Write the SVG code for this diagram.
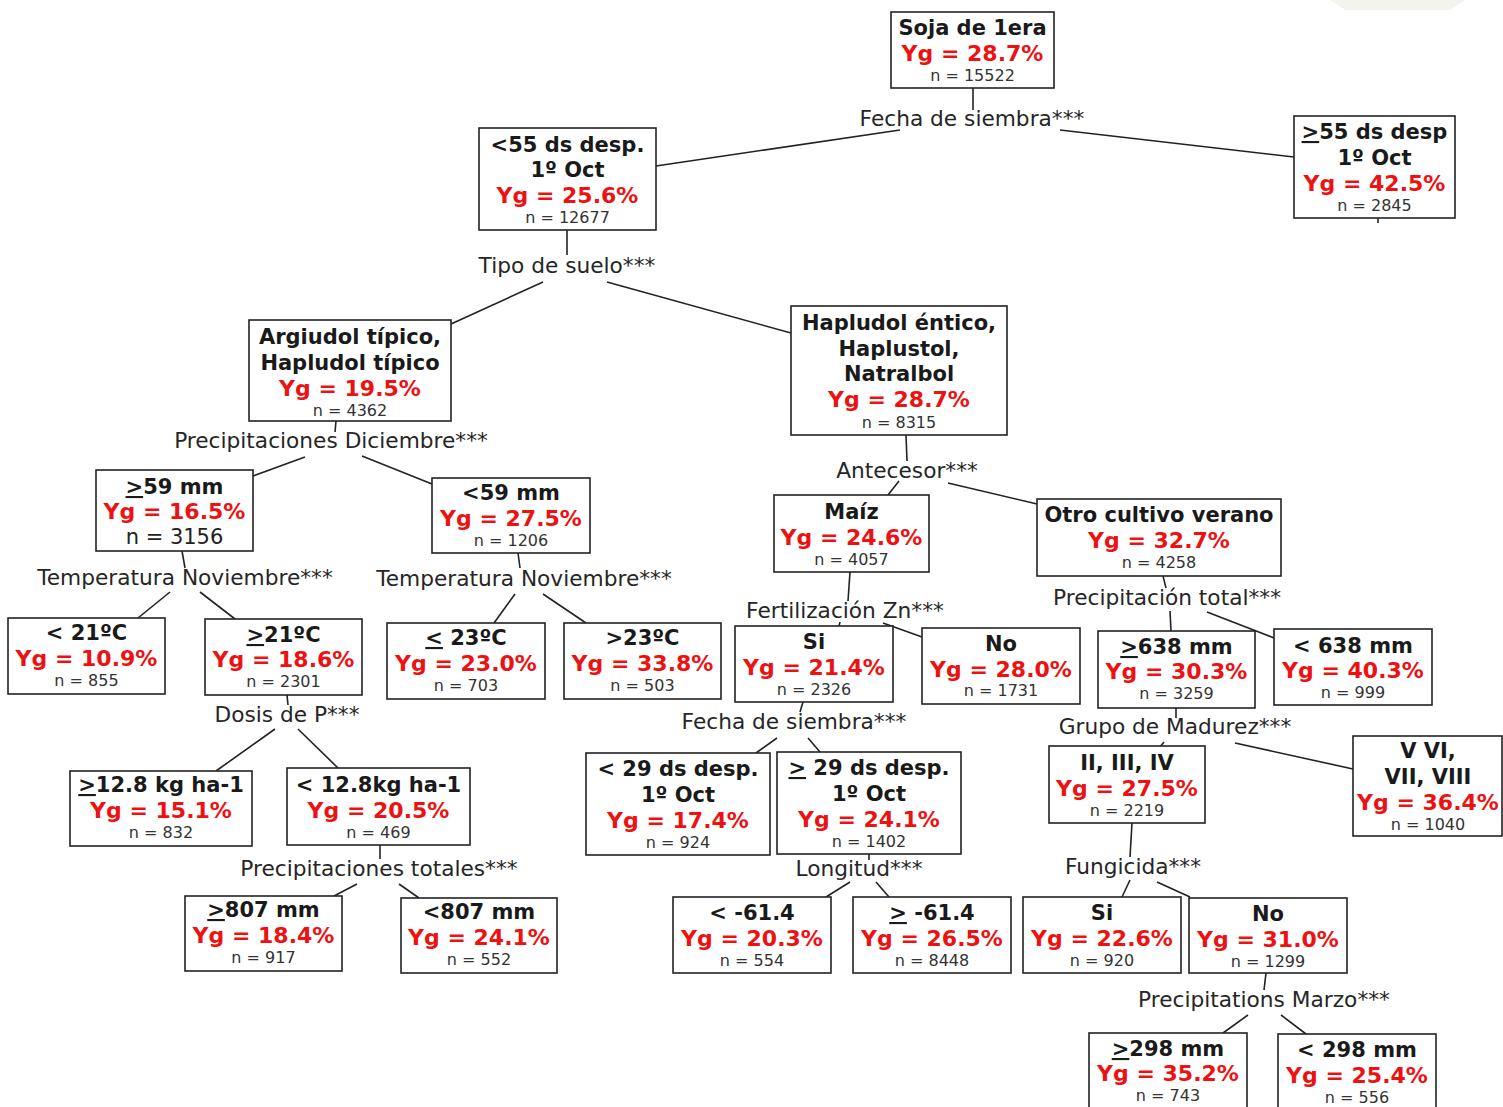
<svg xmlns="http://www.w3.org/2000/svg" width="1503" height="1107" viewBox="0 0 1503 1107">
<style>
  .box{fill:#fff;stroke:#222;stroke-width:1.6}
  .t{font-family:"DejaVu Sans","Liberation Sans",sans-serif;font-weight:bold;font-size:21px;fill:#1a1a1a;text-anchor:middle}
  .y{font-family:"DejaVu Sans","Liberation Sans",sans-serif;font-weight:bold;font-size:22px;fill:#ee1111;text-anchor:middle}
  .n{font-family:"DejaVu Sans","Liberation Sans",sans-serif;font-size:16px;fill:#333;text-anchor:middle}
  .nl{font-family:"DejaVu Sans","Liberation Sans",sans-serif;font-size:21px;fill:#222;text-anchor:middle}
  .lbl{font-family:"DejaVu Sans","Liberation Sans",sans-serif;font-size:21.7px;fill:#262626;text-anchor:middle}
  .u{text-decoration:underline}
  #connectors line{stroke:#222;stroke-width:1.6}
</style>
<rect width="1503" height="1107" fill="#fff"/>
<polygon points="1330,0 1465,0 1450,10 1345,10" fill="#f4f4ee"/>

<g id="connectors">
  <line x1="973" y1="88" x2="973" y2="110"/>
  <line x1="900" y1="130" x2="656" y2="166"/>
  <line x1="1060" y1="130" x2="1294" y2="157"/>
  <line x1="1378" y1="218" x2="1378" y2="223"/>
  <line x1="567" y1="230" x2="567" y2="255"/>
  <line x1="543" y1="282" x2="451" y2="324"/>
  <line x1="607" y1="282" x2="791" y2="333"/>
  <line x1="336" y1="421" x2="335" y2="432"/>
  <line x1="906" y1="435" x2="907" y2="461"/>
  <line x1="305" y1="457" x2="253" y2="476"/>
  <line x1="362" y1="456" x2="432" y2="484"/>
  <line x1="182" y1="551" x2="185" y2="568"/>
  <line x1="518" y1="553" x2="520" y2="568"/>
  <line x1="170" y1="592" x2="138" y2="618"/>
  <line x1="200" y1="592" x2="235" y2="619"/>
  <line x1="515" y1="594" x2="494" y2="623"/>
  <line x1="543" y1="594" x2="586" y2="623"/>
  <line x1="287" y1="695" x2="288" y2="705"/>
  <line x1="275" y1="729" x2="216" y2="771"/>
  <line x1="298" y1="729" x2="338" y2="768"/>
  <line x1="380" y1="845" x2="380" y2="859"/>
  <line x1="357" y1="884" x2="334" y2="896"/>
  <line x1="399" y1="884" x2="419" y2="898"/>
  <line x1="899" y1="481" x2="888" y2="495"/>
  <line x1="948" y1="483" x2="1037" y2="504"/>
  <line x1="850" y1="572" x2="848" y2="601"/>
  <line x1="1163" y1="576" x2="1166" y2="588"/>
  <line x1="840" y1="622" x2="839" y2="626"/>
  <line x1="883" y1="623" x2="922" y2="637"/>
  <line x1="1170" y1="611" x2="1171" y2="631"/>
  <line x1="1207" y1="612" x2="1274" y2="638"/>
  <line x1="803" y1="702" x2="800" y2="712"/>
  <line x1="1176" y1="708" x2="1176" y2="718"/>
  <line x1="777" y1="738" x2="756" y2="753"/>
  <line x1="808" y1="738" x2="820" y2="752"/>
  <line x1="1164" y1="742" x2="1160" y2="747"/>
  <line x1="1235" y1="743" x2="1353" y2="769"/>
  <line x1="869" y1="854" x2="869" y2="860"/>
  <line x1="1132" y1="823" x2="1130" y2="857"/>
  <line x1="850" y1="882" x2="826" y2="897"/>
  <line x1="876" y1="882" x2="889" y2="897"/>
  <line x1="1130" y1="880" x2="1122" y2="897"/>
  <line x1="1157" y1="882" x2="1190" y2="897"/>
  <line x1="1266" y1="973" x2="1264" y2="990"/>
  <line x1="1248" y1="1015" x2="1223" y2="1033"/>
  <line x1="1281" y1="1015" x2="1306" y2="1034"/>
</g>

<g id="split-labels">
  <text class="lbl" x="972" y="126">Fecha de siembra***</text>
  <text class="lbl" x="567" y="273">Tipo de suelo***</text>
  <text class="lbl" x="331" y="448">Precipitaciones Diciembre***</text>
  <text class="lbl" x="907" y="478">Antecesor***</text>
  <text class="lbl" x="185" y="585">Temperatura Noviembre***</text>
  <text class="lbl" x="524" y="586">Temperatura Noviembre***</text>
  <text class="lbl" x="287" y="722">Dosis de P***</text>
  <text class="lbl" x="379" y="876">Precipitaciones totales***</text>
  <text class="lbl" x="845" y="618">Fertilización Zn***</text>
  <text class="lbl" x="1167" y="605">Precipitación total***</text>
  <text class="lbl" x="794" y="729">Fecha de siembra***</text>
  <text class="lbl" x="1175" y="734">Grupo de Madurez***</text>
  <text class="lbl" x="859" y="876">Longitud***</text>
  <text class="lbl" x="1133" y="874">Fungicida***</text>
  <text class="lbl" x="1264" y="1007">Precipitations Marzo***</text>
</g>

<g id="n-root">
  <rect class="box" x="891" y="12" width="163" height="76"/>
  <text class="t" x="972.5" y="35">Soja de 1era</text>
  <text class="y" x="972.5" y="61">Yg = 28.7%</text>
  <text class="n" x="972.5" y="81">n = 15522</text>
</g>
<g id="n-fecha-lt55">
  <rect class="box" x="479" y="128" width="177" height="102"/>
  <text class="t" x="567.5" y="152">&lt;55 ds desp.</text>
  <text class="t" x="567.5" y="177">1º Oct</text>
  <text class="y" x="567.5" y="203">Yg = 25.6%</text>
  <text class="n" x="567.5" y="223">n = 12677</text>
</g>
<g id="n-fecha-ge55">
  <rect class="box" x="1294" y="116" width="161" height="102"/>
  <text class="t" x="1374.5" y="139"><tspan class="u">&gt;</tspan>55 ds desp</text>
  <text class="t" x="1374.5" y="165">1º Oct</text>
  <text class="y" x="1374.5" y="191">Yg = 42.5%</text>
  <text class="n" x="1374.5" y="211">n = 2845</text>
</g>
<g id="n-argiudol">
  <rect class="box" x="249" y="320" width="202" height="101"/>
  <text class="t" x="350" y="344">Argiudol típico,</text>
  <text class="t" x="350" y="370">Hapludol típico</text>
  <text class="y" x="350" y="396">Yg = 19.5%</text>
  <text class="n" x="350" y="416">n = 4362</text>
</g>
<g id="n-hapludol">
  <rect class="box" x="791" y="306" width="216" height="129"/>
  <text class="t" x="899" y="330">Hapludol éntico,</text>
  <text class="t" x="899" y="356">Haplustol,</text>
  <text class="t" x="899" y="381">Natralbol</text>
  <text class="y" x="899" y="407">Yg = 28.7%</text>
  <text class="n" x="899" y="428">n = 8315</text>
</g>
<g id="n-dic-ge59">
  <rect class="box" x="96" y="470" width="157" height="81"/>
  <text class="t" x="174.5" y="494"><tspan class="u">&gt;</tspan>59 mm</text>
  <text class="y" x="174.5" y="519">Yg = 16.5%</text>
  <text class="nl" x="174.5" y="544">n = 3156</text>
</g>
<g id="n-dic-lt59">
  <rect class="box" x="432" y="478" width="158" height="75"/>
  <text class="t" x="511" y="500">&lt;59 mm</text>
  <text class="y" x="511" y="526">Yg = 27.5%</text>
  <text class="n" x="511" y="546">n = 1206</text>
</g>
<g id="n-temp-lt21">
  <rect class="box" x="8" y="618" width="157" height="76"/>
  <text class="t" x="86.5" y="640">&lt; 21ºC</text>
  <text class="y" x="86.5" y="666">Yg = 10.9%</text>
  <text class="n" x="86.5" y="686">n = 855</text>
</g>
<g id="n-temp-ge21">
  <rect class="box" x="205" y="619" width="157" height="76"/>
  <text class="t" x="283.5" y="642"><tspan class="u">&gt;</tspan>21ºC</text>
  <text class="y" x="283.5" y="667">Yg = 18.6%</text>
  <text class="n" x="283.5" y="687">n = 2301</text>
</g>
<g id="n-temp-le23">
  <rect class="box" x="387" y="623" width="158" height="76"/>
  <text class="t" x="466" y="645"><tspan class="u">&lt;</tspan> 23ºC</text>
  <text class="y" x="466" y="671">Yg = 23.0%</text>
  <text class="n" x="466" y="691">n = 703</text>
</g>
<g id="n-temp-gt23">
  <rect class="box" x="564" y="623" width="157" height="76"/>
  <text class="t" x="642.5" y="645">&gt;23ºC</text>
  <text class="y" x="642.5" y="671">Yg = 33.8%</text>
  <text class="n" x="642.5" y="691">n = 503</text>
</g>
<g id="n-p-ge128">
  <rect class="box" x="70" y="771" width="182" height="75"/>
  <text class="t" x="161" y="792"><tspan class="u">&gt;</tspan>12.8 kg ha-1</text>
  <text class="y" x="161" y="818">Yg = 15.1%</text>
  <text class="n" x="161" y="838">n = 832</text>
</g>
<g id="n-p-lt128">
  <rect class="box" x="287" y="768" width="183" height="77"/>
  <text class="t" x="378.5" y="792">&lt; 12.8kg ha-1</text>
  <text class="y" x="378.5" y="818">Yg = 20.5%</text>
  <text class="n" x="378.5" y="838">n = 469</text>
</g>
<g id="n-pt-ge807">
  <rect class="box" x="185" y="896" width="157" height="75"/>
  <text class="t" x="263.5" y="917"><tspan class="u">&gt;</tspan>807 mm</text>
  <text class="y" x="263.5" y="943">Yg = 18.4%</text>
  <text class="n" x="263.5" y="963">n = 917</text>
</g>
<g id="n-pt-lt807">
  <rect class="box" x="401" y="898" width="156" height="75"/>
  <text class="t" x="479" y="919">&lt;807 mm</text>
  <text class="y" x="479" y="945">Yg = 24.1%</text>
  <text class="n" x="479" y="965">n = 552</text>
</g>
<g id="n-maiz">
  <rect class="box" x="774" y="495" width="155" height="77"/>
  <text class="t" x="851.5" y="519">Maíz</text>
  <text class="y" x="851.5" y="545">Yg = 24.6%</text>
  <text class="n" x="851.5" y="565">n = 4057</text>
</g>
<g id="n-otro">
  <rect class="box" x="1037" y="499" width="244" height="77"/>
  <text class="t" x="1159" y="522">Otro cultivo verano</text>
  <text class="y" x="1159" y="548">Yg = 32.7%</text>
  <text class="n" x="1159" y="568">n = 4258</text>
</g>
<g id="n-zn-si">
  <rect class="box" x="735" y="626" width="158" height="76"/>
  <text class="t" x="814" y="649">Si</text>
  <text class="y" x="814" y="675">Yg = 21.4%</text>
  <text class="n" x="814" y="695">n = 2326</text>
</g>
<g id="n-zn-no">
  <rect class="box" x="922" y="628" width="158" height="76"/>
  <text class="t" x="1001" y="651">No</text>
  <text class="y" x="1001" y="677">Yg = 28.0%</text>
  <text class="n" x="1001" y="696">n = 1731</text>
</g>
<g id="n-ptot-ge638">
  <rect class="box" x="1098" y="631" width="157" height="77"/>
  <text class="t" x="1176.5" y="654"><tspan class="u">&gt;</tspan>638 mm</text>
  <text class="y" x="1176.5" y="679">Yg = 30.3%</text>
  <text class="n" x="1176.5" y="699">n = 3259</text>
</g>
<g id="n-ptot-lt638">
  <rect class="box" x="1274" y="629" width="158" height="76"/>
  <text class="t" x="1353" y="653">&lt; 638 mm</text>
  <text class="y" x="1353" y="678">Yg = 40.3%</text>
  <text class="n" x="1353" y="698">n = 999</text>
</g>
<g id="n-fs-lt29">
  <rect class="box" x="586" y="753" width="184" height="102"/>
  <text class="t" x="678" y="776">&lt; 29 ds desp.</text>
  <text class="t" x="678" y="802">1º Oct</text>
  <text class="y" x="678" y="828">Yg = 17.4%</text>
  <text class="n" x="678" y="848">n = 924</text>
</g>
<g id="n-fs-ge29">
  <rect class="box" x="777" y="752" width="184" height="102"/>
  <text class="t" x="869" y="775"><tspan class="u">&gt;</tspan> 29 ds desp.</text>
  <text class="t" x="869" y="801">1º Oct</text>
  <text class="y" x="869" y="827">Yg = 24.1%</text>
  <text class="n" x="869" y="847">n = 1402</text>
</g>
<g id="n-gm-2-4">
  <rect class="box" x="1049" y="746" width="156" height="77"/>
  <text class="t" x="1127" y="770">II, III, IV</text>
  <text class="y" x="1127" y="796">Yg = 27.5%</text>
  <text class="n" x="1127" y="816">n = 2219</text>
</g>
<g id="n-gm-5-8">
  <rect class="box" x="1353" y="736" width="149" height="100"/>
  <text class="t" x="1428" y="758">V VI,</text>
  <text class="t" x="1428" y="784">VII,  VIII</text>
  <text class="y" x="1428" y="810">Yg = 36.4%</text>
  <text class="n" x="1428" y="830">n = 1040</text>
</g>
<g id="n-lon-lt">
  <rect class="box" x="673" y="897" width="158" height="76"/>
  <text class="t" x="752" y="920">&lt; -61.4</text>
  <text class="y" x="752" y="946">Yg = 20.3%</text>
  <text class="n" x="752" y="966">n = 554</text>
</g>
<g id="n-lon-ge">
  <rect class="box" x="853" y="897" width="158" height="76"/>
  <text class="t" x="932" y="920"><tspan class="u">&gt;</tspan> -61.4</text>
  <text class="y" x="932" y="946">Yg = 26.5%</text>
  <text class="n" x="932" y="966">n = 8448</text>
</g>
<g id="n-fun-si">
  <rect class="box" x="1023" y="897" width="158" height="76"/>
  <text class="t" x="1102" y="920">Si</text>
  <text class="y" x="1102" y="946">Yg = 22.6%</text>
  <text class="n" x="1102" y="966">n = 920</text>
</g>
<g id="n-fun-no">
  <rect class="box" x="1189" y="898" width="158" height="75"/>
  <text class="t" x="1268" y="921">No</text>
  <text class="y" x="1268" y="947">Yg = 31.0%</text>
  <text class="n" x="1268" y="967">n = 1299</text>
</g>
<g id="n-mar-ge298">
  <rect class="box" x="1089" y="1033" width="158" height="80"/>
  <text class="t" x="1168" y="1056"><tspan class="u">&gt;</tspan>298 mm</text>
  <text class="y" x="1168" y="1081">Yg = 35.2%</text>
  <text class="n" x="1168" y="1101">n = 743</text>
</g>
<g id="n-mar-lt298">
  <rect class="box" x="1278" y="1034" width="158" height="80"/>
  <text class="t" x="1357" y="1057">&lt; 298 mm</text>
  <text class="y" x="1357" y="1083">Yg = 25.4%</text>
  <text class="n" x="1357" y="1103">n = 556</text>
</g>
</svg>
